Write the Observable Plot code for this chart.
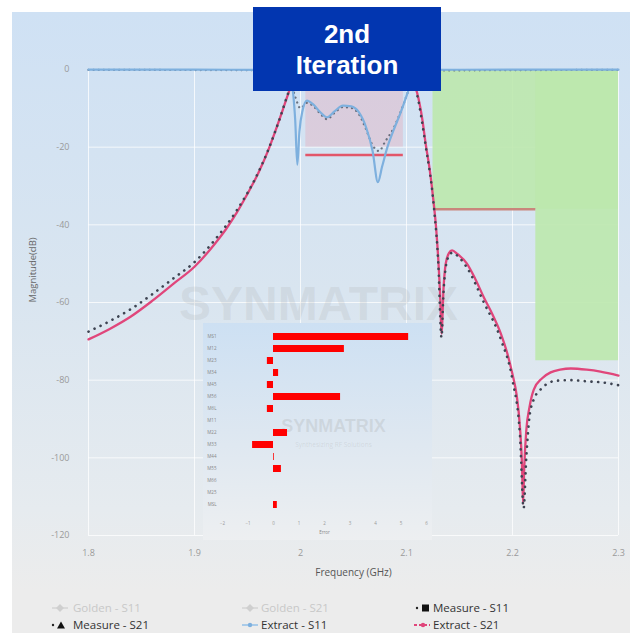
<!DOCTYPE html>
<html>
<head>
<meta charset="utf-8">
<script src="https://cdn.jsdelivr.net/npm/d3@7"></script>
<script src="https://cdn.jsdelivr.net/npm/@observablehq/plot@0.6"></script>
<style>
  body { margin: 0; background: #ffffff; }
  #wrap { position: relative; width: 630px; height: 633px; overflow: hidden; font-family: "Open Sans", "Liberation Sans", sans-serif; }
  #panel { position: absolute; left: 12px; top: 12px; width: 618px; height: 621px;
           background: linear-gradient(180deg, #cfe1f4 0%, #d9e5f0 45%, #e6ebef 80%, #ececec 93%, #ececec 100%); }
  #main { position: absolute; left: 0; top: 0; }
  #inset { position: absolute; left: 203px; top: 323px; }
  #badge { position: absolute; left: 253px; top: 7px; width: 188px; height: 84px; box-sizing: border-box; padding-top: 12px;
           background: #0236b0; color: #ffffff; text-align: center; font: bold 26px/31px "Liberation Sans", Arial, sans-serif; }
  .lg { position: absolute; font-size: 11.5px; line-height: 14px; color: #333; white-space: nowrap; }
  .lg.off { color: #c8c8c8; }
  .mk { position: absolute; line-height: 0; }
  .mk svg { display: block; }
</style>
</head>
<body>
<div id="wrap">
  <div id="panel"></div>
  <div id="main"></div>
  <div id="inset"></div>
  <div id="badge">2nd<br>Iteration</div>
  <div id="legend"></div>
</div>
<script>
// ---------- data ----------
const xTicks = [1.8, 1.9, 2.0, 2.1, 2.2, 2.3];
const yTicks = [0, -20, -40, -60, -80, -100, -120];

const s21Freq = [1.80,1.82,1.84,1.86,1.88,1.90,1.92,1.93,1.94,1.95,1.96,1.97,1.98,1.985,1.99,1.995,2.00,2.05,2.10,2.105,2.110,2.115,2.118,2.122,2.1255,2.128,2.130,2.132,2.133,2.135,2.137,2.140,2.143,2.148,2.157,2.165,2.173,2.181,2.189,2.195,2.200,2.204,2.207,2.209,2.210,2.211,2.213,2.216,2.220,2.228,2.236,2.245,2.255,2.27,2.283,2.30];
const s21Extract = [-69.5,-66.8,-63.6,-59.6,-55.2,-50.8,-44.6,-41.0,-36.8,-32.0,-26.8,-20.5,-13.0,-9.0,-5.0,-1.0,-0.2,-0.2,-0.5,-2.5,-6,-13,-19,-26,-34,-41,-49,-60,-68,-56,-50,-47.3,-46.6,-47.5,-50,-54,-58.7,-63,-68,-73,-78.5,-84,-92,-102,-111.8,-103,-93,-87,-82.5,-79.5,-78,-77.3,-77,-77.3,-77.8,-78.8];

const s21MeasFreq = [1.80,1.82,1.84,1.86,1.88,1.90,1.92,1.94,1.96,1.97,1.98,1.99,2.00,2.05,2.10,2.11,2.118,2.1255,2.130,2.133,2.135,2.137,2.140,2.143,2.150,2.157,2.173,2.189,2.200,2.207,2.2105,2.213,2.216,2.220,2.228,2.240,2.255,2.27,2.285,2.30];
const s21Measure = [-67.5,-64.8,-61.7,-57.9,-53.8,-49.6,-43.6,-36.2,-26.6,-20.4,-13.0,-5.0,-0.3,-0.3,-0.6,-6.5,-19.5,-34.5,-50,-69,-57,-51,-48,-47.2,-48.5,-51,-60,-69.5,-80,-94,-113,-100,-89.5,-85,-82,-80.2,-80,-80.3,-80.6,-81.3];

const s11Freq = [1.80,1.90,1.98,1.985,1.99,1.993,1.995,1.997,1.999,2.002,2.006,2.012,2.018,2.025,2.032,2.040,2.048,2.055,2.062,2.068,2.073,2.077,2.082,2.088,2.094,2.101,2.105,2.108,2.115,2.20,2.30];
const s11Extract = [-0.05,-0.05,-0.1,-0.3,-2,-6,-13,-24.5,-16,-10.5,-8,-9,-10.8,-12.3,-10.8,-9.3,-9.5,-11,-15,-21,-29,-25,-20,-15.5,-11.4,-6,-2.5,-0.8,-0.1,-0.05,-0.05];

const s11MeasFreq = [1.80,1.98,1.99,1.995,2.000,2.006,2.012,2.018,2.025,2.032,2.040,2.048,2.055,2.062,2.068,2.074,2.080,2.088,2.094,2.101,2.106,2.112,2.30];
const s11Measure = [-0.1,-0.2,-2.5,-7,-10,-8.6,-9.4,-11.2,-12.8,-11.2,-9.7,-9.9,-11.5,-15.5,-19.5,-21,-18.5,-15,-11.2,-6,-2,-0.3,-0.1];

// passband return-loss window and spec line
const passX1 = [2.005], passX2 = [2.097], passTop = [0], passBottom = [-20];
const rlSpecX1 = [2.005], rlSpecX2 = [2.097], rlSpecDb = [-22];
// rejection mask
const maskX1 = [2.125, 2.222], maskX2 = [2.3, 2.3], maskTop = [0, 0], maskBottom = [-36, -75];
const rejSpecX1 = [2.127], rejSpecX2 = [2.222], rejSpecDb = [-36];

// inset: coupling deviations
const couplingNames = ["MS1","M12","M23","M34","M45","M56","M6L","M11","M22","M33","M44","M55","M66","M25","MSL"];
const couplingDelta = [5.3, 2.78, -0.24, 0.2, -0.24, 2.63, -0.24, 0, 0.55, -0.82, 0.03, 0.31, 0, 0, 0.15];
const insetTicks = [-2, -1, 0, 1, 2, 3, 4, 5, 6];

// ---------- tables ----------
const zipF = (f, v) => f.map((x, i) => ({f: x, db: v[i]}));
const s21E = zipF(s21Freq, s21Extract);
const s21M = zipF(s21MeasFreq, s21Measure);
const s11E = zipF(s11Freq, s11Extract);
const s11M = zipF(s11MeasFreq, s11Measure);
const passRect = passX1.map((x, i) => ({x1: x, x2: passX2[i], y1: passTop[i], y2: passBottom[i]}));
const maskRects = maskX1.map((x, i) => ({x1: x, x2: maskX2[i], y1: maskTop[i], y2: maskBottom[i]}));
const rlSpec = rlSpecX1.map((x, i) => ({x1: x, x2: rlSpecX2[i], y: rlSpecDb[i]}));
const rejSpec = rejSpecX1.map((x, i) => ({x1: x, x2: rejSpecX2[i], y: rejSpecDb[i]}));
const insetData = couplingNames.map((n, i) => ({name: n, v: couplingDelta[i]}));

// ---------- main chart ----------
const main = Plot.plot({
  width: 630, height: 590,
  marginLeft: 88, marginRight: 12, marginTop: 69, marginBottom: 55,
  style: {background: "transparent", fontFamily: "'Open Sans', sans-serif", fontSize: "9px", color: "#999", overflow: "visible"},
  x: {domain: [1.8, 2.3]},
  y: {domain: [-120, 0]},
  marks: [
    Plot.gridX(xTicks, {stroke: "#ffffff", strokeOpacity: 0.75, strokeWidth: 1}),
    Plot.gridY(yTicks, {stroke: "#ffffff", strokeOpacity: 0.75, strokeWidth: 1}),
    Plot.rect(passRect, {x1: "x1", x2: "x2", y1: "y1", y2: "y2", fill: "#e8a2b4", fillOpacity: 0.35}),
    Plot.rect(maskRects, {x1: "x1", x2: "x2", y1: "y1", y2: "y2", fill: "#bde8ad", fillOpacity: 0.9}),
    Plot.text(["SYNMATRIX"], {frameAnchor: "middle", dx: -35, dy: 2, fontSize: 48, fontWeight: "bold", fill: "#9a9a9a", fillOpacity: 0.17, fontFamily: "'Liberation Sans', Arial, sans-serif"}),
    Plot.ruleY(rlSpec, {y: "y", x1: "x1", x2: "x2", stroke: "#e2566a", strokeWidth: 2.5}),
    Plot.ruleY(rejSpec, {y: "y", x1: "x1", x2: "x2", stroke: "#c9867c", strokeWidth: 2.5}),
    Plot.line(s21E, {x: "f", y: "db", stroke: "#e0467b", strokeWidth: 2.3, curve: "monotone-x"}),
    Plot.line(s21M, {x: "f", y: "db", stroke: "#3e4452", strokeWidth: 2.6, strokeDasharray: "0.1 6.6", strokeLinecap: "round", curve: "monotone-x"}),
    Plot.line(s11M, {x: "f", y: "db", stroke: "#4d5563", strokeWidth: 2.2, strokeOpacity: 0.8, strokeDasharray: "0.1 5", strokeLinecap: "round", curve: "monotone-x"}),
    Plot.line(s11E, {x: "f", y: "db", stroke: "#7eb0de", strokeWidth: 2.2, curve: "monotone-x"}),
    Plot.axisX({ticks: xTicks, tickSize: 0, tickPadding: 14, fill: "#9a9a9a", tickFormat: d => String(+d.toFixed(1)), label: null}),
    Plot.axisY({ticks: yTicks, tickSize: 0, tickPadding: 19, fill: "#9a9a9a", tickFormat: d => String(d), label: null}),
    Plot.text(["Frequency (GHz)"], {frameAnchor: "bottom", dy: 40, fontSize: 10, fill: "#555"}),
    Plot.text(["Magnitude(dB)"], {frameAnchor: "left", dx: -56, rotate: -90, fontSize: 9.5, fill: "#666"})
  ]
});
document.getElementById("main").appendChild(main);

// ---------- inset bar chart ----------
const inset = Plot.plot({
  width: 229, height: 217,
  marginLeft: 19, marginRight: 6, marginTop: 4, marginBottom: 27,
  style: {background: "linear-gradient(180deg, #cde0f3 0%, #dde7f1 50%, #edeff1 100%)", fontFamily: "'Open Sans', sans-serif", fontSize: "4.5px", color: "#999"},
  x: {domain: [-2, 6]},
  y: {domain: couplingNames, paddingInner: 0.44, paddingOuter: 0.22},
  marks: [
    Plot.text(["SYNMATRIX"], {frameAnchor: "middle", dx: 9, dy: 6, fontSize: 18, fontWeight: "bold", fill: "#9a9a9a", fillOpacity: 0.22, fontFamily: "'Liberation Sans', Arial, sans-serif"}),
    Plot.text(["Synthesizing RF Solutions"], {frameAnchor: "middle", dx: 9, dy: 24, fontSize: 6.5, fill: "#9a9a9a", fillOpacity: 0.22}),
    Plot.barX(insetData, {x: "v", y: "name", fill: "#ff0000"}),
    Plot.axisY({tickSize: 0, tickPadding: 6, fill: "#888", fontSize: 4.5, label: null}),
    Plot.axisX({ticks: insetTicks, tickSize: 0, tickPadding: 8, fill: "#999", fontSize: 4.5, label: null}),
    Plot.text(["Error"], {frameAnchor: "bottom", dy: 20, fontSize: 4.5, fill: "#888"})
  ]
});
document.getElementById("inset").appendChild(inset);

// ---------- legend ----------
const legendItems = [
  {label: "Golden - S11", off: true,  mx: 52, tx: 73, row: 0, kind: "diamond"},
  {label: "Golden - S21", off: true,  mx: 242, tx: 261, row: 0, kind: "diamond"},
  {label: "Measure - S11", off: false, mx: 414, tx: 433, row: 0, kind: "square"},
  {label: "Measure - S21", off: false, mx: 50, tx: 73, row: 1, kind: "triangle"},
  {label: "Extract - S11", off: false, mx: 242, tx: 261, row: 1, kind: "blue"},
  {label: "Extract - S21", off: false, mx: 414, tx: 433, row: 1, kind: "pink"}
];
const rowY = [608, 625];
const mkSvg = {
  diamond: '<svg width="16" height="10"><line x1="0" y1="5" x2="16" y2="5" stroke="#d4d4d4" stroke-width="1.5"/><path d="M8 1 L12 5 L8 9 L4 5 Z" fill="#cfcfcf"/></svg>',
  square: '<svg width="16" height="10"><circle cx="3" cy="5" r="1.2" fill="#222"/><rect x="8" y="1.5" width="7" height="7" fill="#111"/></svg>',
  triangle: '<svg width="16" height="10"><circle cx="3" cy="5" r="1.2" fill="#222"/><path d="M11 1.5 L15 8.5 L7 8.5 Z" fill="#111"/></svg>',
  blue: '<svg width="16" height="10"><line x1="0" y1="5" x2="16" y2="5" stroke="#a9cbe9" stroke-width="2"/><circle cx="8" cy="5" r="2.2" fill="#7eb0de"/></svg>',
  pink: '<svg width="16" height="10"><line x1="0" y1="5" x2="16" y2="5" stroke="#e0467b" stroke-width="2" stroke-dasharray="3 2"/><circle cx="9" cy="5" r="2.2" fill="#e0467b"/></svg>'
};
const lg = document.getElementById("legend");
legendItems.forEach(it => {
  const m = document.createElement("div");
  m.className = "mk";
  m.style.left = it.mx + "px";
  m.style.top = (rowY[it.row] - 5) + "px";
  m.innerHTML = mkSvg[it.kind];
  lg.appendChild(m);
  const t = document.createElement("div");
  t.className = "lg" + (it.off ? " off" : "");
  t.style.left = it.tx + "px";
  t.style.top = (rowY[it.row] - 7) + "px";
  t.textContent = it.label;
  lg.appendChild(t);
});
</script>
</body>
</html>
